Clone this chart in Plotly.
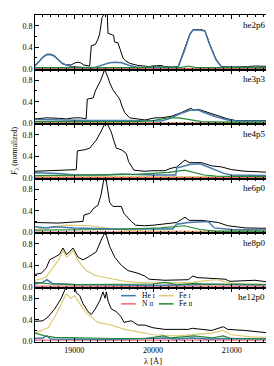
import plotly.graph_objects as go
from plotly.subplots import make_subplots

# ---------------- data: (wavelength [A], normalized flux) ----------------
models = ["he2p6", "he3p3", "he4p5", "he6p0", "he8p0", "he12p0"]

he2p6_total = [(18500,0.06),(18550,0.14),(18600,0.22),(18650,0.27),(18700,0.27),(18750,0.24),(18800,0.17),
               (18850,0.10),(18900,0.07),(18960,0.07),(19010,0.11),(19050,0.12),(19080,0.11),(19120,0.07),
               (19195,0.05),(19216,0.43),(19267,0.45),(19300,0.55),(19322,0.65),(19352,0.95),(19375,1.01),
               (19419,1.01),(19428,0.66),(19500,0.62),(19510,0.50),(19555,0.48),(19589,0.33),(19618,0.20),
               (19650,0.15),(19703,0.10),(19809,0.06),(19894,0.04),(19950,0.04),(20000,0.05),(20050,0.06),
               (20100,0.06),(20150,0.04),(20250,0.03),(20320,0.04),(20400,0.35),(20470,0.65),(20510,0.73),
               (20600,0.73),(20660,0.71),(20720,0.46),(20800,0.18),(20870,0.04),(21000,0.03),(21100,0.03),
               (21200,0.04),(21300,0.05),(21400,0.04),(21500,0.04)]
he2p6_hei = [(18500,0.05),(18550,0.13),(18600,0.21),(18650,0.26),(18700,0.26),(18750,0.23),(18800,0.16),
             (18850,0.09),(18961,0.04),(19100,0.02),(19250,0.02),(19350,0.06),(19450,0.11),(19520,0.12),
             (19600,0.11),(19700,0.06),(19780,0.03),(20000,0.02),(20320,0.03),(20400,0.34),(20470,0.64),
             (20510,0.72),(20600,0.72),(20660,0.70),(20720,0.45),(20800,0.17),(20870,0.03),(21500,0.02)]
he2p6_nii = [(18500,0.0),(21500,0.0)]
he2p6_fei = [(18500,0.01),(19500,0.01),(20500,0.01),(21500,0.01)]
he2p6_feii = [(18500,0.02),(18900,0.02),(19500,0.02),(19900,0.02),(20047,0.05),(20150,0.02),(20350,0.02),
              (20449,0.05),(20550,0.02),(21000,0.02),(21500,0.02)]

he3p3_total = [(18500,0.08),(18650,0.10),(18800,0.09),(18900,0.08),(19000,0.10),(19080,0.10),(19150,0.08),
               (19165,0.45),(19240,0.47),(19267,0.60),(19335,0.80),(19386,1.00),(19428,0.85),(19450,0.75),
               (19491,0.62),(19530,0.55),(19576,0.45),(19610,0.30),(19640,0.20),(19703,0.10),(19848,0.07),
               (19900,0.06),(20025,0.10),(20110,0.10),(20237,0.13),(20364,0.20),(20480,0.28),(20520,0.24),
               (20572,0.26),(20650,0.22),(20800,0.15),(20950,0.08),(21050,0.05),(21300,0.05),(21350,0.06),
               (21500,0.05)]
he3p3_hei = [(18500,0.07),(18800,0.06),(19200,0.05),(19700,0.05),(20100,0.04),(20200,0.08),(20350,0.18),
             (20470,0.24),(20570,0.25),(20650,0.20),(20800,0.12),(20950,0.06),(21050,0.04),(21500,0.04)]
he3p3_nii = [(18500,0.0),(21500,0.0)]
he3p3_fei = [(18500,0.01),(21500,0.01)]
he3p3_feii = [(18500,0.03),(19000,0.03),(19800,0.03),(20000,0.05),(20190,0.10),(20330,0.10),(20450,0.07),
              (20618,0.03),(21000,0.02),(21500,0.02)]

he4p5_total = [(18500,0.12),(18700,0.13),(18900,0.14),(19025,0.15),(19038,0.50),(19131,0.52),(19195,0.55),
               (19279,0.70),(19335,0.85),(19386,1.00),(19420,1.00),(19470,0.85),(19500,0.70),(19533,0.55),
               (19600,0.52),(19660,0.45),(19690,0.30),(19730,0.20),(19758,0.14),(19894,0.12),(20000,0.13),
               (20152,0.13),(20216,0.17),(20301,0.20),(20407,0.33),(20460,0.28),(20618,0.28),(20745,0.22),
               (20873,0.20),(21000,0.15),(21170,0.12),(21500,0.10)]
he4p5_hei = [(18500,0.09),(18800,0.08),(19000,0.05),(19400,0.05),(19600,0.07),(19800,0.06),(20000,0.05),
             (20290,0.05),(20301,0.18),(20350,0.20),(20480,0.25),(20600,0.26),(20700,0.20),(20800,0.15),
             (20900,0.08),(21000,0.05),(21500,0.04)]
he4p5_nii = [(18500,0.0),(21500,0.0)]
he4p5_fei = [(18500,0.02),(21500,0.02)]
he4p5_feii = [(18500,0.04),(19000,0.05),(19800,0.06),(20000,0.08),(20200,0.10),(20400,0.14),(20500,0.10),
              (20650,0.05),(20800,0.03),(21500,0.02)]

he6p0_total = [(18500,0.18),(18800,0.17),(19000,0.19),(19110,0.20),(19123,0.32),(19195,0.35),(19250,0.45),
               (19300,0.50),(19340,0.70),(19377,1.00),(19402,1.00),(19449,0.55),(19491,0.48),(19597,0.48),
               (19630,0.35),(19660,0.30),(19724,0.20),(19780,0.13),(19894,0.12),(20000,0.13),(20152,0.15),
               (20301,0.18),(20407,0.28),(20460,0.22),(20618,0.22),(20830,0.18),(20950,0.12),(21170,0.08),
               (21500,0.07)]
he6p0_hei = [(18500,0.10),(18650,0.08),(18750,0.10),(19000,0.08),(19500,0.06),(20250,0.06),(20300,0.15),
             (20450,0.18),(20700,0.20),(20780,0.08),(21000,0.05),(21500,0.04)]
he6p0_nii = [(18500,0.0),(21500,0.0)]
he6p0_fei = [(18500,0.05),(18700,0.10),(18900,0.13),(19200,0.12),(19400,0.08),(19600,0.04),(20000,0.02),
             (21500,0.02)]
he6p0_feii = [(18500,0.04),(19500,0.05),(20100,0.08),(20400,0.12),(20600,0.05),(20800,0.02),(21500,0.02)]

he8p0_total = [(18500,0.23),(18580,0.25),(18644,0.35),(18686,0.50),(18750,0.55),(18810,0.60),(18856,0.72),
               (18900,0.60),(18940,0.65),(18983,0.72),(19047,0.55),(19110,0.50),(19175,0.55),(19279,0.65),
               (19350,0.90),(19394,1.02),(19449,0.75),(19513,0.55),(19597,0.40),(19682,0.30),(19809,0.25),
               (19894,0.20),(19950,0.14),(20152,0.12),(20449,0.13),(20508,0.20),(20560,0.17),(20745,0.15),
               (20915,0.14),(20980,0.10),(21296,0.12),(21500,0.08)]
he8p0_hei = [(18500,0.05),(18600,0.08),(18650,0.13),(18720,0.06),(19000,0.04),(19500,0.03),(20000,0.02),
             (20600,0.04),(20700,0.05),(20900,0.04),(21500,0.03)]
he8p0_nii = [(18500,0.01),(21500,0.01)]
he8p0_fei = [(18500,0.12),(18600,0.15),(18650,0.20),(18700,0.30),(18750,0.42),(18800,0.50),(18856,0.68),
             (18900,0.55),(18940,0.60),(18983,0.68),(19040,0.50),(19100,0.40),(19150,0.30),(19250,0.22),
             (19350,0.18),(19500,0.14),(19650,0.10),(19800,0.08),(19900,0.07),(20200,0.07),(20500,0.08),
             (20600,0.10),(20700,0.12),(20800,0.13),(20900,0.10),(21000,0.06),(21200,0.05),(21500,0.05)]
he8p0_feii = [(18500,0.08),(18700,0.05),(19000,0.04),(20000,0.05),(20150,0.08),(20300,0.04),(20550,0.06),
              (20700,0.04),(21000,0.05),(21300,0.04),(21500,0.04)]

he12p0_total = [(18500,0.37),(18600,0.38),(18665,0.45),(18750,0.60),(18834,0.80),(18898,1.02),(19004,1.02),
                (19025,0.90),(19068,0.85),(19110,0.70),(19174,0.55),(19216,0.50),(19267,0.60),(19322,0.75),
                (19364,0.92),(19390,0.80),(19407,0.92),(19428,0.75),(19470,0.60),(19534,0.55),(19597,0.45),
                (19631,0.35),(19724,0.38),(19809,0.30),(19894,0.30),(20000,0.25),(20152,0.22),(20449,0.22),
                (20500,0.24),(20745,0.20),(20893,0.27),(20950,0.22),(21170,0.20),(21400,0.17),(21500,0.15)]
he12p0_hei = [(18500,0.05),(18600,0.06),(18650,0.10),(18700,0.04),(19500,0.03),(20150,0.06),(20300,0.04),
              (20500,0.06),(20700,0.04),(20900,0.05),(21500,0.04)]
he12p0_nii = [(18500,0.02),(21500,0.02)]
he12p0_fei = [(18500,0.15),(18665,0.25),(18750,0.45),(18834,0.70),(18898,0.88),(18960,0.80),(19004,0.85),
              (19068,0.70),(19140,0.55),(19216,0.45),(19300,0.35),(19470,0.30),(19640,0.22),(19894,0.15),
              (20000,0.12),(20300,0.10),(20500,0.12),(20745,0.15),(20893,0.20),(20990,0.12),(21250,0.08),
              (21500,0.07)]
he12p0_feii = [(18500,0.15),(18624,0.10),(18750,0.07),(19000,0.06),(19500,0.05),(19900,0.05),(20131,0.10),
               (20230,0.06),(20449,0.08),(20520,0.10),(20745,0.06),(20893,0.10),(20990,0.05),(21500,0.04)]

panel_series = {
    "he2p6": [he2p6_total, he2p6_hei, he2p6_nii, he2p6_fei, he2p6_feii],
    "he3p3": [he3p3_total, he3p3_hei, he3p3_nii, he3p3_fei, he3p3_feii],
    "he4p5": [he4p5_total, he4p5_hei, he4p5_nii, he4p5_fei, he4p5_feii],
    "he6p0": [he6p0_total, he6p0_hei, he6p0_nii, he6p0_fei, he6p0_feii],
    "he8p0": [he8p0_total, he8p0_hei, he8p0_nii, he8p0_fei, he8p0_feii],
    "he12p0": [he12p0_total, he12p0_hei, he12p0_nii, he12p0_fei, he12p0_feii],
}

series_names = ["total", "He I", "N II", "Fe I", "Fe II"]
series_colors = ["#000000", "#4477AA", "#EE6677", "#DDCC77", "#228833"]
series_widths = [1.0, 1.5, 1.2, 1.2, 1.2]
draw_order = [0, 3, 2, 1, 4]

x_ticks = [19000, 20000, 21000]
x_tick_text = ["19000", "20000", "21000"]
y_ticks = [0.0, 0.4, 0.8]
y_tick_text = ["0.0", "0.4", "0.8"]

FONT = "Liberation Serif"

fig = make_subplots(rows=6, cols=1, shared_xaxes=True, vertical_spacing=0)

for r, m in enumerate(models, start=1):
    ser = panel_series[m]
    for i in draw_order:
        pts = ser[i]
        fig.add_trace(go.Scatter(
            x=[p[0] for p in pts], y=[p[1] for p in pts], mode="lines",
            line=dict(color=series_colors[i], width=series_widths[i]),
            showlegend=False, hoverinfo="skip"), row=r, col=1)
    sfx = '' if r == 1 else str(r)
    fig.add_annotation(text=m, xref=f"x{sfx} domain", yref=f"y{sfx} domain",
                       x=0.985, y=0.95, xanchor="right", yanchor="top", showarrow=False,
                       font=dict(family=FONT, size=9, color="black"))

axis_common = dict(showline=True, linecolor="black", linewidth=1, mirror="allticks",
                   ticks="inside", tickcolor="black", showgrid=False, zeroline=False,
                   tickfont=dict(family=FONT, size=8, color="black"))

for r in range(1, 7):
    fig.update_xaxes(range=[18500, 21500], tickvals=x_ticks, ticktext=x_tick_text, ticklen=4,
                     minor=dict(dtick=100, tick0=18500, ticklen=2, ticks="inside", tickcolor="black"),
                     showticklabels=(r == 6), **axis_common, row=r, col=1)
    fig.update_yaxes(range=[-0.015, 1.0], tickvals=y_ticks, ticktext=y_tick_text, ticklen=4,
                     minor=dict(dtick=0.2, tick0=0, ticklen=2, ticks="inside", tickcolor="black"),
                     **axis_common, row=r, col=1)

# legend (drawn manually inside the bottom panel)
legend_items = [("He <span style='font-size:6px'>I</span>", series_colors[1], 0.365, 0.85),
                ("N <span style='font-size:6px'>II</span>", series_colors[2], 0.365, 0.70),
                ("Fe <span style='font-size:6px'>I</span>", series_colors[3], 0.525, 0.85),
                ("Fe <span style='font-size:6px'>II</span>", series_colors[4], 0.525, 0.70)]
for txt, col, lx, ly in legend_items:
    fig.add_shape(type="line", xref="x6 domain", yref="y6 domain", x0=lx, x1=lx + 0.062, y0=ly, y1=ly,
                  line=dict(color=col, width=1.5))
    fig.add_annotation(text=txt, xref="x6 domain", yref="y6 domain", x=lx + 0.078, y=ly, xanchor="left",
                       yanchor="middle", showarrow=False, font=dict(family=FONT, size=7.5, color="black"))

fig.add_annotation(text="<i>F</i><sub>λ</sub> (normalized)", xref="paper", yref="y3 domain", x=-0.083, y=0.5,
                   textangle=-90, xanchor="center", yanchor="middle", showarrow=False,
                   font=dict(family=FONT, size=7.5, color="black"))
fig.add_annotation(text="λ [Å]", xref="paper", yref="paper", x=0.5, y=-0.058, xanchor="center",
                   yanchor="middle", showarrow=False, font=dict(family=FONT, size=8.5, color="black"))

fig.update_layout(width=274, height=366, margin=dict(l=27, r=11, t=7, b=32),
                  paper_bgcolor="white", plot_bgcolor="white", showlegend=False,
                  font=dict(family=FONT, size=8, color="black"))

fig.write_html("out.html")
